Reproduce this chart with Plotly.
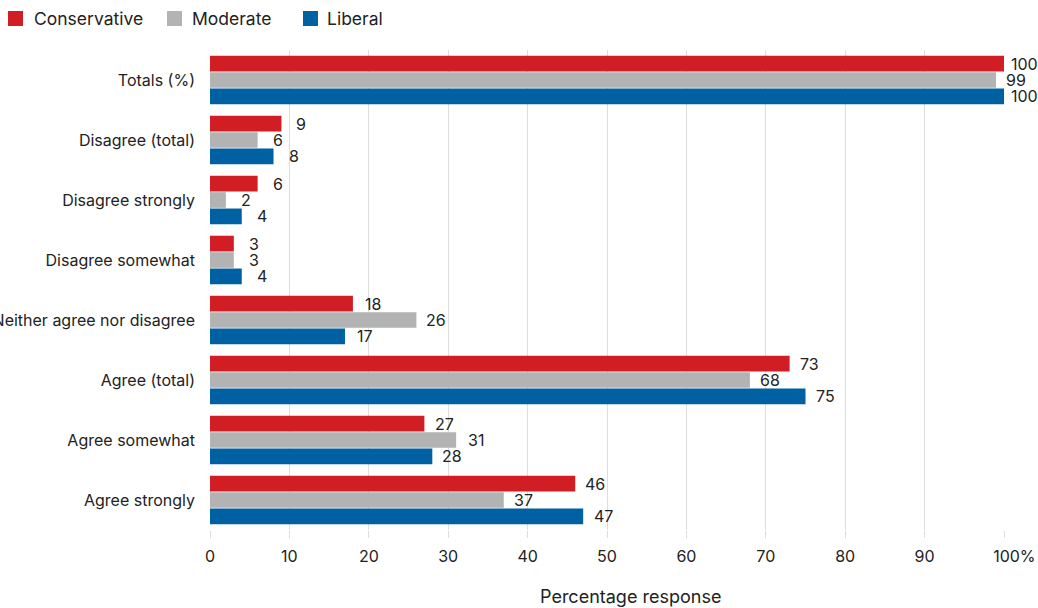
import plotly.graph_objects as go

categories = ["Totals (%)", "Disagree (total)", "Disagree strongly", "Disagree somewhat",
              "Neither agree nor disagree", "Agree (total)", "Agree somewhat", "Agree strongly"]
conservative = [100, 9, 6, 3, 18, 73, 27, 46]
moderate = [99, 6, 2, 3, 26, 68, 31, 37]
liberal = [100, 8, 4, 4, 17, 75, 28, 47]
tick_vals = [0, 10, 20, 30, 40, 50, 60, 70, 80, 90, 100]
tick_text = ["0", "10", "20", "30", "40", "50", "60", "70", "80", "90", "\u2007\u2007100%"]

FONT = "Inter, Noto Sans, sans-serif"
TXT = "#222222"
series = [("Conservative", conservative, "#D01E24"),
          ("Moderate", moderate, "#B3B3B3"),
          ("Liberal", liberal, "#0061A2")]

# plot area in pixels
W, H = 1038, 608
L, R, T, B = 210, 34, 50, 78
PW, PH = W - L - R, H - T - B


def px_x(px):
    return (px - L) / PW


def px_y(py):
    return (H - B - py) / PH


fig = go.Figure()
yshifts = [16.4, 0, -16.4]
for (name, vals, col), ys in zip(series, yshifts):
    fig.add_trace(go.Bar(
        y=categories, x=vals, name=name, orientation="h",
        marker=dict(color=col, line=dict(width=0)),
        showlegend=False, hoverinfo="x+name",
    ))
    for cat, v in zip(categories, vals):
        fig.add_annotation(x=v, y=cat, xref="x", yref="y", text=str(v),
                           showarrow=False, xanchor="center", yanchor="middle",
                           xshift=20, yshift=ys,
                           font=dict(size=16, color=TXT, family=FONT))

fig.update_layout(
    width=W, height=H,
    margin=dict(l=L, r=R, t=T, b=B, autoexpand=False),
    paper_bgcolor="white", plot_bgcolor="white",
    barmode="group", bargap=0.18, bargroupgap=0.04,
    font=dict(family=FONT, size=16, color=TXT),
    showlegend=False,
    xaxis=dict(range=[0, 100], tickvals=tick_vals, ticktext=tick_text,
               showgrid=True, gridcolor="#DDDDDD", gridwidth=1,
               ticks="outside", ticklen=7, tickcolor="#DDDDDD",
               zeroline=False, showline=False, ticklabelstandoff=5,
               automargin=False,
               tickfont=dict(size=16, color=TXT)),
    yaxis=dict(autorange="reversed", showgrid=False, zeroline=False,
               showline=False, ticks="", ticklabelstandoff=14,
               automargin=False,
               tickfont=dict(size=16, color=TXT)),
)

# axis title
fig.add_annotation(text="Percentage response", xref="paper", yref="paper",
                   x=px_x(630), y=px_y(596), xanchor="center", yanchor="middle",
                   showarrow=False, font=dict(size=18, color=TXT))

# legend (drawn manually)
legend_items = [("Conservative", "#D01E24", 8, 32),
                ("Moderate", "#B3B3B3", 167, 190),
                ("Liberal", "#0061A2", 303, 325)]
for label, col, sx, tx in legend_items:
    fig.add_shape(type="rect", xref="paper", yref="paper",
                  x0=px_x(sx), x1=px_x(sx + 15), y0=px_y(26), y1=px_y(11),
                  fillcolor=col, line=dict(width=0))
    fig.add_annotation(text=label, xref="paper", yref="paper",
                       x=px_x(tx), y=px_y(18.5), xanchor="left", yanchor="middle",
                       showarrow=False, font=dict(size=17.5, color=TXT))

fig.write_html("out.html")
